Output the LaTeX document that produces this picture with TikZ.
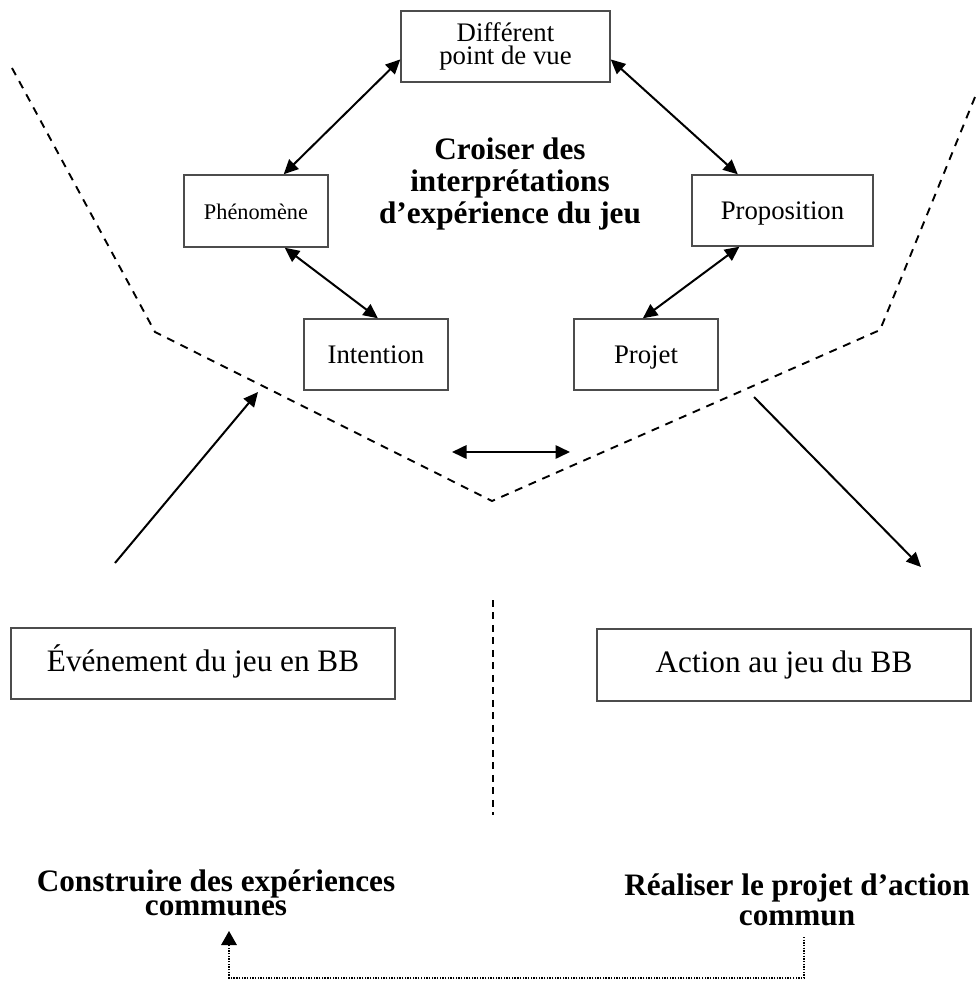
\documentclass[tikz,border=0pt]{standalone}
\usepackage{fontspec}
\setmainfont{Liberation Serif}
\usetikzlibrary{arrows.meta}

\tikzset{
  box/.style={draw=black!70, line width=0.65pt, inner sep=0pt, align=center},
  txtS/.style={font=\fontsize{10}{11}\selectfont, text height=7.4pt, text depth=0pt},
  txtM/.style={font=\fontsize{12}{10.5}\selectfont, text height=7.9pt, text depth=0pt},
  txtMM/.style={font=\fontsize{12}{10.5}\selectfont},
  txtL/.style={font=\fontsize{14}{16}\selectfont, text height=6.8pt, text depth=0pt},
  link/.style={line width=0.9pt, {Triangle[length=6.5pt,width=6pt]}-{Triangle[length=6.5pt,width=6pt]}},
  flow/.style={line width=0.9pt, -{Triangle[length=6.5pt,width=6pt]}},
  border/.style={line width=0.85pt, dash pattern=on 3.6pt off 3.1pt},
  split/.style={line width=0.85pt, dash pattern=on 3pt off 2.6pt},
  back/.style={line width=0.6pt, dash pattern=on 0.6pt off 0.6pt, -{Triangle[length=6.3pt,width=7pt]}},
}

\begin{document}
\begin{tikzpicture}[x=0.4484pt, y=-0.4484pt]
\useasboundingbox (0,0) rectangle (979,981);

% interpretation boxes
\node[box, txtMM, minimum width=93.7pt, minimum height=31.8pt] (dv) at (505.5,46.5) {Différent\\point de vue};
\node[box, txtS, minimum width=64.6pt, minimum height=32.3pt] (ph) at (256,211) {Phénomène};
\node[box, txtM, minimum width=81.2pt, minimum height=31.8pt] (pr) at (782.5,210.5) {Proposition};
\node[box, txtM, minimum width=64.6pt, minimum height=31.8pt] (in) at (376,354.5) {Intention};
\node[box, txtM, minimum width=64.6pt, minimum height=31.8pt] (pj) at (646,354.5) {Projet};

\node[align=center, font=\bfseries\fontsize{14}{14.5}\selectfont] (title) at (510,184)
  {Croiser des\\interprétations\\d’expérience du jeu};

% links around the circle
\draw[link] (dv.187) -- (ph.53);
\draw[link] (dv.-7) -- (pr.141);
\draw[link] (ph.-52) -- (in.87);
\draw[link] (pr.-140.5) -- (pj.95);

% dashed boundary of the shared space
\coordinate (b1) at (12,68);
\coordinate (b2) at (155,332);
\coordinate (b3) at (492,501);
\coordinate (b4) at (880,330);
\coordinate (b5) at (975,97);
\draw[border] (b1) -- (b2) -- (b3) -- (b4) -- (b5);

\coordinate (h1) at (452,452);
\coordinate (h2) at (570,452);
\draw[link] (h1) -- (h2);

% entry and exit arrows
\coordinate (l1) at (115,563);
\coordinate (l2) at (258,392);
\draw[flow] (l1) -- (l2);
\coordinate (r1) at (754,397);
\coordinate (r2) at (921,567);
\draw[flow] (r1) -- (r2);

% game boxes
\node[box, txtL, minimum width=172.2pt, minimum height=31.8pt] (ev) at (203,663.5) {Événement du jeu en BB};
\node[box, txtL, minimum width=167.7pt, minimum height=32.3pt] (ac) at (784,665) {Action au jeu du BB};

\coordinate (s1) at (493,600);
\coordinate (s2) at (493,815);
\draw[split] (s1) -- (s2);

% goals
\node[align=center, font=\bfseries\fontsize{14}{11}\selectfont] (cons) at (216,893)
  {Construire des expériences\\communes};
\node[align=center, font=\bfseries\fontsize{14}{13.5}\selectfont] (real) at (797,900)
  {Réaliser le projet d’action\\commun};

\coordinate (d1) at (804,937);
\coordinate (d2) at (229,931);
\draw[back] (d1) -- (804,978) -- (229,978) -- (d2);
\end{tikzpicture}
\end{document}
